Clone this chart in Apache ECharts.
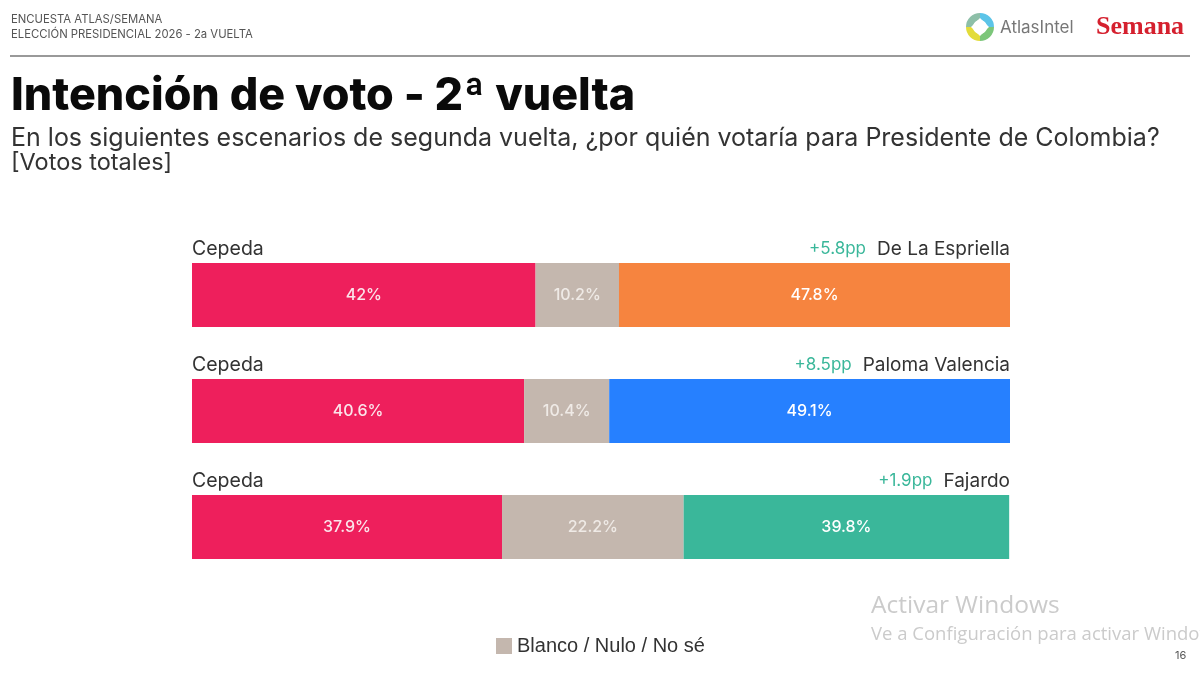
<!DOCTYPE html>
<html>
<head>
<meta charset="utf-8">
<style>
  html, body { margin: 0; padding: 0; background: #fff; overflow: hidden; }
  #main { width: 1200px; height: 673px; }
</style>
<script src="https://cdn.jsdelivr.net/npm/echarts@6/dist/echarts.min.js"></script>
</head>
<body>
<div id="main"></div>
<script>
// data
const scenarios = ['De La Espriella', 'Paloma Valencia', 'Fajardo'];
const leftName = 'Cepeda';
const cepeda = [42, 40.6, 37.9];
const blanco = [10.2, 10.4, 22.2];
const rival = [47.8, 49.1, 39.8];
const margins = ['+5.8pp', '+8.5pp', '+1.9pp'];
const blancoName = 'Blanco / Nulo / No sé';

const rivalColors = ['#F6843F', '#2680FF', '#3AB79A'];
const uiFont = 'Inter, "Noto Sans", sans-serif';

var myChart = echarts.init(document.getElementById('main'));

function barLabel (color) {
  return {
    show: true,
    position: 'inside',
    color: color,
    fontFamily: uiFont,
    fontSize: 16,
    fontWeight: 500,
    formatter: (p) => p.value + '%'
  };
}

var option = {
  backgroundColor: '#fff',
  animation: false,
  grid: { left: 192, top: 237, width: 818, height: 348 },
  legend: {
    data: [blancoName],
    left: 491,
    top: 631,
    itemWidth: 16,
    itemHeight: 16,
    icon: 'rect',
    selectedMode: false,
    textStyle: { color: '#333', fontSize: 20, fontFamily: '"Liberation Sans", Arial, sans-serif' }
  },
  xAxis: { type: 'value', min: 0, max: 100, show: false },
  yAxis: { type: 'category', data: scenarios, inverse: true, show: false },
  series: [{
    name: leftName,
    type: 'bar',
    stack: 'one',
    barWidth: 64,
    itemStyle: { color: '#EE1F5C' },
    label: barLabel('#FBE4EA'),
    data: cepeda
  }, {
    name: blancoName,
    type: 'bar',
    stack: 'one',
    barWidth: 64,
    itemStyle: { color: '#C4B7AE' },
    label: barLabel('#EFEAE6'),
    data: blanco
  }, {
    name: 'Rival',
    type: 'bar',
    stack: 'one',
    barWidth: 64,
    label: barLabel('#FFF'),
    data: rival.map((v, i) => ({ value: v, itemStyle: { color: rivalColors[i] } }))
  }]
};
myChart.setOption(option);

function text (x, y, str, size, color, extra) {
  return {
    type: 'text',
    x: x,
    y: y,
    silent: true,
    style: Object.assign({
      text: str,
      fontSize: size,
      fill: color,
      fontFamily: uiFont,
      textVerticalAlign: 'middle'
    }, extra || {})
  };
}

function measure (str, size) {
  const ctx = document.createElement('canvas').getContext('2d');
  ctx.font = size + 'px ' + uiFont;
  return ctx.measureText(str).width;
}

// Atlas logo ring, four coloured arcs around a white diamond
function ringPart (start, end, color) {
  return {
    type: 'sector',
    silent: true,
    shape: { cx: 980, cy: 27, r: 14, r0: 7, startAngle: start, endAngle: end },
    style: { fill: color }
  };
}

var items = [
  text(11, 20, 'ENCUESTA ATLAS/SEMANA', 11.3, '#555'),
  text(11, 35, 'ELECCIÓN PRESIDENCIAL 2026 - 2a VUELTA', 11.3, '#555'),
  { type: 'line', silent: true, shape: { x1: 10, y1: 56, x2: 1190, y2: 56 }, style: { stroke: '#999', lineWidth: 2 } },
  ringPart(-Math.PI / 2, 0, '#5CC4E8'),
  ringPart(0, Math.PI / 2, '#7CC67A'),
  ringPart(Math.PI / 2, Math.PI, '#E3DC3A'),
  ringPart(Math.PI, Math.PI * 1.5, '#8DBFA8'),
  { type: 'polygon', silent: true, shape: { points: [[980, 18], [989, 27], [980, 36], [971, 27]] }, style: { fill: '#fff' } },
  text(1000, 28, 'AtlasIntel', 17, '#777'),
  text(1096, 27, 'Semana', 26, '#D5202E', { fontFamily: '"Liberation Serif", serif', fontWeight: 'bold' }),
  text(11, 97, 'Intención de voto - 2ª vuelta', 44.8, '#0A0A0A', { fontWeight: 800 }),
  text(11, 138, 'En los siguientes escenarios de segunda vuelta, ¿por quién votaría para Presidente de Colombia?', 25, '#333'),
  text(11, 163, '[Votos totales]', 23.5, '#333'),
  text(871, 606, 'Activar Windows', 24.5, '#CBCBCB', { fontFamily: '"Open Sans", sans-serif' }),
  text(871, 635, 'Ve a Configuración para activar Windows', 18.5, '#CBCBCB', { fontFamily: '"Open Sans", sans-serif' }),
  text(1175, 656, '16', 11, '#555')
];

// names above each bar, placed from the category scale
scenarios.forEach((name, i) => {
  const y = myChart.convertToPixel({ yAxisIndex: 0 }, name) - 46;
  items.push(text(192, y, leftName, 19.5, '#333'));
  items.push(text(1010, y, name, 19, '#333', { textAlign: 'right' }));
  items.push(text(1010 - measure(name, 19) - 11, y, margins[i], 17, '#3AB79A', { textAlign: 'right' }));
});

myChart.setOption({ graphic: { elements: items } });
</script>
</body>
</html>
